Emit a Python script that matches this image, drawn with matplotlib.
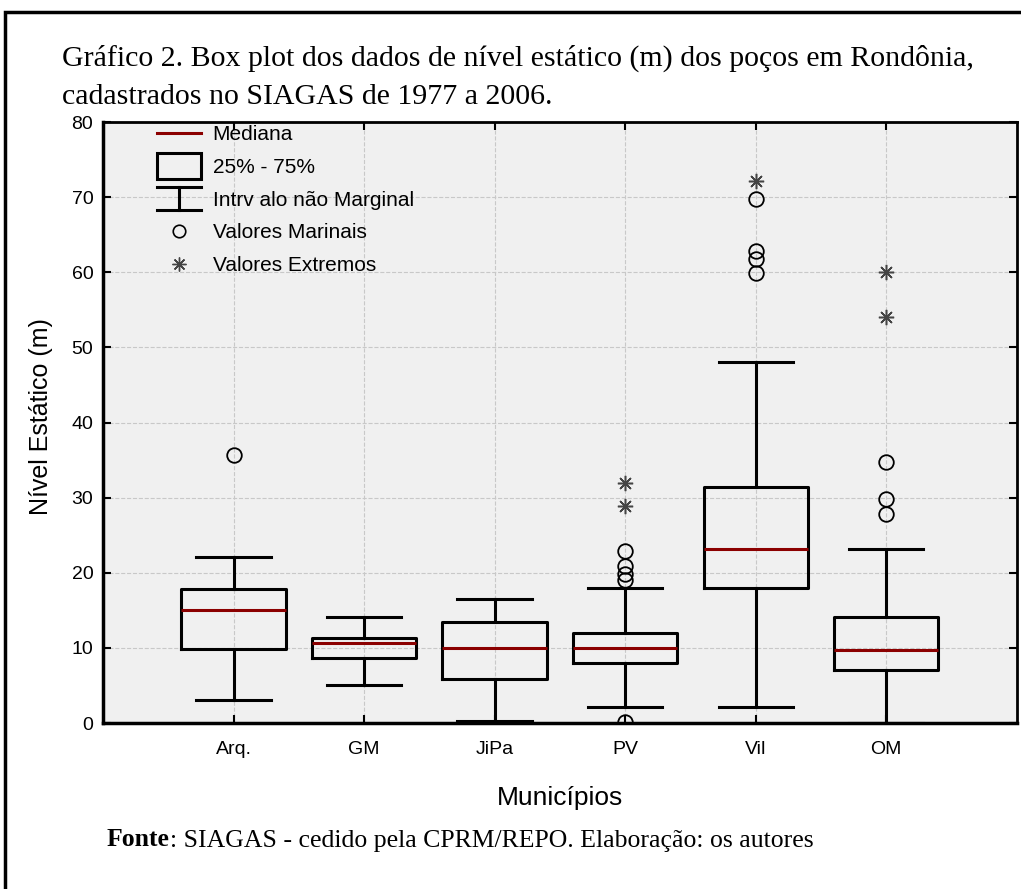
import matplotlib
matplotlib.use("Agg")
import matplotlib.pyplot as plt
from matplotlib.lines import Line2D
from matplotlib.patches import Rectangle
from matplotlib.legend_handler import HandlerBase

# dados (nível estático, m)
municipios = ['Arq.', 'GM', 'JiPa', 'PV', 'Vil', 'OM']
q1 = [9.9, 8.6, 5.8, 8.0, 18.0, 7.0]
mediana = [15.1, 10.6, 10.0, 10.0, 23.1, 9.7]
q3 = [17.9, 11.3, 13.4, 12.0, 31.4, 14.1]
whis_lo = [3.0, 5.1, 0.3, 2.1, 2.1, 0.0]
whis_hi = [22.1, 14.1, 16.5, 18.0, 48.0, 23.1]
marginais = [[35.7], [], [], [0.15, 19.0, 19.9, 20.9, 22.9],
             [59.9, 61.8, 62.9, 69.8], [27.8, 29.8, 34.7]]
extremos = [[], [], [], [28.9, 32.0], [72.1], [54.1, 60.0]]
yticks = [0, 10, 20, 30, 40, 50, 60, 70, 80]

SANS = 'Liberation Sans'
SERIF = 'Liberation Serif'
RED = '#8b0000'
LW = 2.2


class BoxHandler(HandlerBase):
    def create_artists(self, legend, orig_handle, xdescent, ydescent,
                       width, height, fontsize, trans):
        r = Rectangle((-xdescent, -ydescent - 0.4 * height), width, height * 1.8,
                      fill=False, ec='black', lw=LW, transform=trans)
        return [r]


class WhiskerHandler(HandlerBase):
    def create_artists(self, legend, orig_handle, xdescent, ydescent,
                       width, height, fontsize, trans):
        x0, x1 = -xdescent, -xdescent + width
        xm = (x0 + x1) / 2
        y0, y1 = -ydescent - 0.3 * height, -ydescent + 1.3 * height
        arts = [Line2D([x0, x1], [y1, y1]), Line2D([x0, x1], [y0, y0]),
                Line2D([xm, xm], [y0, y1])]
        for a in arts:
            a.set_color('black')
            a.set_linewidth(LW)
            a.set_transform(trans)
        return arts


fig = plt.figure(figsize=(10.21, 8.89), dpi=100)
ax = fig.add_axes([0.1009, 0.1867, 0.895, 0.676])
ax.set_facecolor('#f0f0f0')

pos = list(range(1, len(municipios) + 1))
stats = []
for i, m in enumerate(municipios):
    stats.append(dict(label=m, med=mediana[i], q1=q1[i], q3=q3[i],
                      whislo=whis_lo[i], whishi=whis_hi[i], fliers=[]))

ax.bxp(stats, positions=pos, widths=0.8, capwidths=0.57, showfliers=False,
       boxprops=dict(color='black', lw=LW),
       whiskerprops=dict(color='black', lw=LW),
       capprops=dict(color='black', lw=LW),
       medianprops=dict(color=RED, lw=LW), zorder=3)

for i, p in enumerate(pos):
    if marginais[i]:
        ax.plot([p] * len(marginais[i]), marginais[i], ls='none', marker='o',
                ms=10.5, mfc='none', mec='black', mew=1.3, zorder=4)
    if extremos[i]:
        ax.plot([p] * len(extremos[i]), extremos[i], ls='none', marker=(8, 2, 0),
                ms=11, mec='#444444', mew=1.1, zorder=4)

ax.set_xlim(0, 7)
ax.set_ylim(0, 80)
ax.set_yticks(yticks)
ax.set_xticks(pos)
ax.set_xticklabels(municipios, fontfamily=SANS, fontsize=14)
for t in ax.get_yticklabels():
    t.set_fontfamily(SANS)
    t.set_fontsize(14)
ax.tick_params(direction='in', top=True, right=True, length=6, width=1.5)
ax.tick_params(axis='x', pad=13)
ax.tick_params(axis='y', pad=7)
ax.grid(True, ls='--', color='#c8c8c8', lw=0.8)
ax.set_axisbelow(True)
for s in ax.spines.values():
    s.set_linewidth(2)
ax.spines['left'].set_linewidth(2.5)
ax.spines['bottom'].set_linewidth(2.5)

ax.set_ylabel('Nível Estático (m)', fontfamily=SANS, fontsize=18)
ax.yaxis.set_label_coords(-0.055, 0.51)
ax.set_xlabel('Municípios', fontfamily=SANS, fontsize=19)
ax.xaxis.set_label_coords(0.5, -0.105)

handles = [Line2D([], [], color=RED, lw=LW), 'box', 'whisk',
           Line2D([], [], ls='none', marker='o', ms=9, mfc='none', mec='black', mew=1.2),
           Line2D([], [], ls='none', marker=(8, 2, 0), ms=10, mec='#444444', mew=1.0)]
labels = ['Mediana', '25% - 75%', 'Intrv alo não Marginal',
          'Valores Marinais', 'Valores Extremos']
leg = ax.legend(handles, labels, loc='upper left', bbox_to_anchor=(0.039, 1.026),
                frameon=False, prop=dict(family=SANS, size=15),
                handlelength=2.1, labelspacing=0.66, handletextpad=0.55,
                handler_map={'box': BoxHandler(), 'whisk': WhiskerHandler()})

# moldura externa
fig.add_artist(Rectangle((5 / 1021, -0.1), 1.2, 1 - 12 / 889 + 0.1,
                         transform=fig.transFigure, fill=False, lw=2.5, ec='black'))

fig.text(62 / 1021, 1 - 58 / 889,
         'Gráfico 2. Box plot dos dados de nível estático (m) dos poços em Rondônia,',
         fontfamily=SERIF, fontsize=21.5, va='center', ha='left')
fig.text(62 / 1021, 1 - 97 / 889, 'cadastrados no SIAGAS de 1977 a 2006.',
         fontfamily=SERIF, fontsize=21.5, va='center', ha='left')

t1 = fig.text(107 / 1021, 1 - 840 / 889, 'Fonte', fontfamily=SERIF,
              fontweight='bold', fontsize=18.5, va='center', ha='left')
ax.annotate(': SIAGAS - cedido pela CPRM/REPO. Elaboração: os autores',
            xy=(1, 0), xycoords=t1, va='bottom', ha='left',
            fontfamily=SERIF, fontsize=18.5, annotation_clip=False)

fig.savefig('out.png', dpi=100)
